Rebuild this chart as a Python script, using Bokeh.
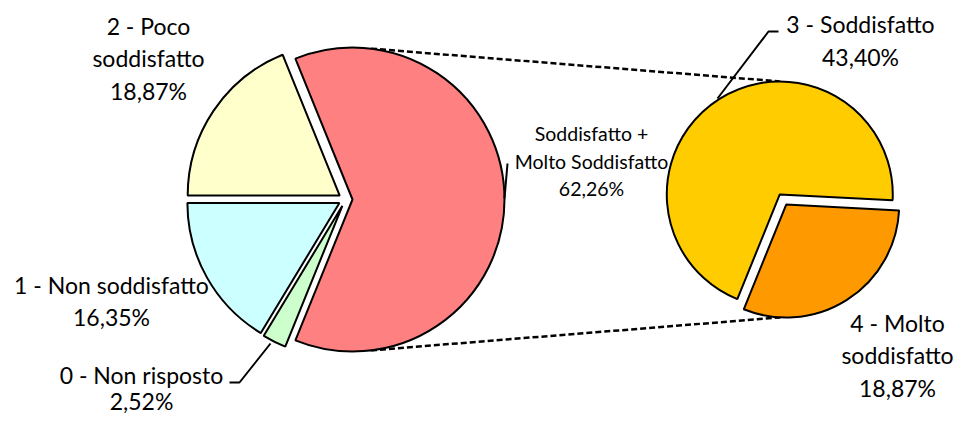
import math
from bokeh.plotting import figure
from bokeh.models import Range1d
from bokeh.core.properties import value
from bokeh.embed import file_html
from bokeh.resources import INLINE

# ---------------- data ----------------
main_labels = ["0 - Non risposto", "1 - Non soddisfatto", "2 - Poco\nsoddisfatto",
               "Soddisfatto +\nMolto Soddisfatto"]
main_values = [2.52, 16.35, 18.87, 62.26]
main_colors = ["#CCFFCC", "#CCFFFF", "#FFFFCC", "#FF8080"]

sec_labels = ["3 - Soddisfatto", "4 - Molto\nsoddisfatto"]
sec_values = [43.40, 18.87]
sec_colors = ["#FFCC00", "#FF9900"]

# ---------------- layout (reference pixel space, y down) ----------------
PAGE_H = 432
MAIN_C = (345.0, 199.0); MAIN_R = 152.0; MAIN_EXPLODE = 7.0
SEC_C = (782.5, 199.0); SEC_R = 113.0; SEC_EXPLODE = 6.0

FONT = "Lato"
BIG = 23
SMALL = 19.5
BASELINE_FIX = 0.34  # em; compensates the renderer's baseline placement

# label anchors: (center x, first baseline y, line spacing, font size)
main_label_pos = [(141, 382, 26, BIG), (111, 292, 32, BIG), (148, 33, 32.5, BIG), (591, 140, 27.5, SMALL)]
sec_label_pos = [(860, 31, 33, BIG), (897, 330, 32.5, BIG)]

leaders = [
    ([229, 239, 270], [382, 382, 343]),
    ([717, 768, 778], [98, 31, 31]),
    ([507, 504], [163, 198]),
]

def Y(y):
    return PAGE_H - y

def pct(v):
    return f"{v:.2f}".replace(".", ",") + "%"

p = figure(width=958, height=416, x_range=Range1d(0, 958), y_range=Range1d(Y(416), Y(0)),
           output_backend="svg", toolbar_location=None, min_border=0,
           x_axis_location=None, y_axis_location=None)
p.grid.visible = False
p.outline_line_color = None
p.background_fill_color = "white"
p.border_fill_color = "white"

def pie_geom(values, center, r, explode, start_deg):
    total = sum(values)
    cx, cy = center[0], Y(center[1])
    cum = 0.0
    xs, ys, sa, ea = [], [], [], []
    for v in values:
        a1 = start_deg - cum / total * 360.0
        cum += v
        a2 = start_deg - cum / total * 360.0
        mid = math.radians((a1 + a2) / 2)
        xs.append(cx + explode * math.cos(mid))
        ys.append(cy + explode * math.sin(mid))
        sa.append(math.radians(a2))
        ea.append(math.radians(a1))
    return xs, ys, sa, ea

# the aggregated slice is centred on the right-hand side (angle 0)
start_deg = 360.0 - main_values[-1] / sum(main_values) * 180.0

mx, my, msa, mea = pie_geom(main_values, MAIN_C, MAIN_R, MAIN_EXPLODE, start_deg)
sx, sy, ssa, sea = pie_geom(sec_values, SEC_C, SEC_R, SEC_EXPLODE, start_deg)

# connector dashed lines (from 'other' slice to secondary pie)
ox, oy = mx[-1], my[-1]
for ang_main, k, ang_sec in [(83, 0, 90), (-83, 1, -93)]:
    x1 = ox + MAIN_R * math.cos(math.radians(ang_main))
    y1 = oy + MAIN_R * math.sin(math.radians(ang_main))
    x2 = sx[k] + SEC_R * math.cos(math.radians(ang_sec))
    y2 = sy[k] + SEC_R * math.sin(math.radians(ang_sec))
    p.line([x1, x2], [y1, y2], line_color="black", line_width=2.5, line_dash="6 3")

p.wedge(x=mx, y=my, radius=MAIN_R, start_angle=msa, end_angle=mea, direction="anticlock",
        fill_color=main_colors, line_color="black", line_width=2)
p.wedge(x=sx, y=sy, radius=SEC_R, start_angle=ssa, end_angle=sea, direction="anticlock",
        fill_color=sec_colors, line_color="black", line_width=2)

for lx, ly in leaders:
    p.line(lx, [Y(v) for v in ly], line_color="black", line_width=2)

def draw_labels(labels, values, positions):
    for name, v, (cx, base, sp, fs) in zip(labels, values, positions):
        lines = name.split("\n") + [pct(v)]
        xs = [cx] * len(lines)
        ys = [Y(base + j * sp - BASELINE_FIX * fs) for j in range(len(lines))]
        p.text(x=xs, y=ys, text=lines, text_font=value(FONT), text_font_size=value(f"{fs}px"),
               text_align="center", text_baseline="alphabetic", text_color="black")

draw_labels(main_labels, main_values, main_label_pos)
draw_labels(sec_labels, sec_values, sec_label_pos)

open("out.html", "w").write(file_html(p, INLINE))
